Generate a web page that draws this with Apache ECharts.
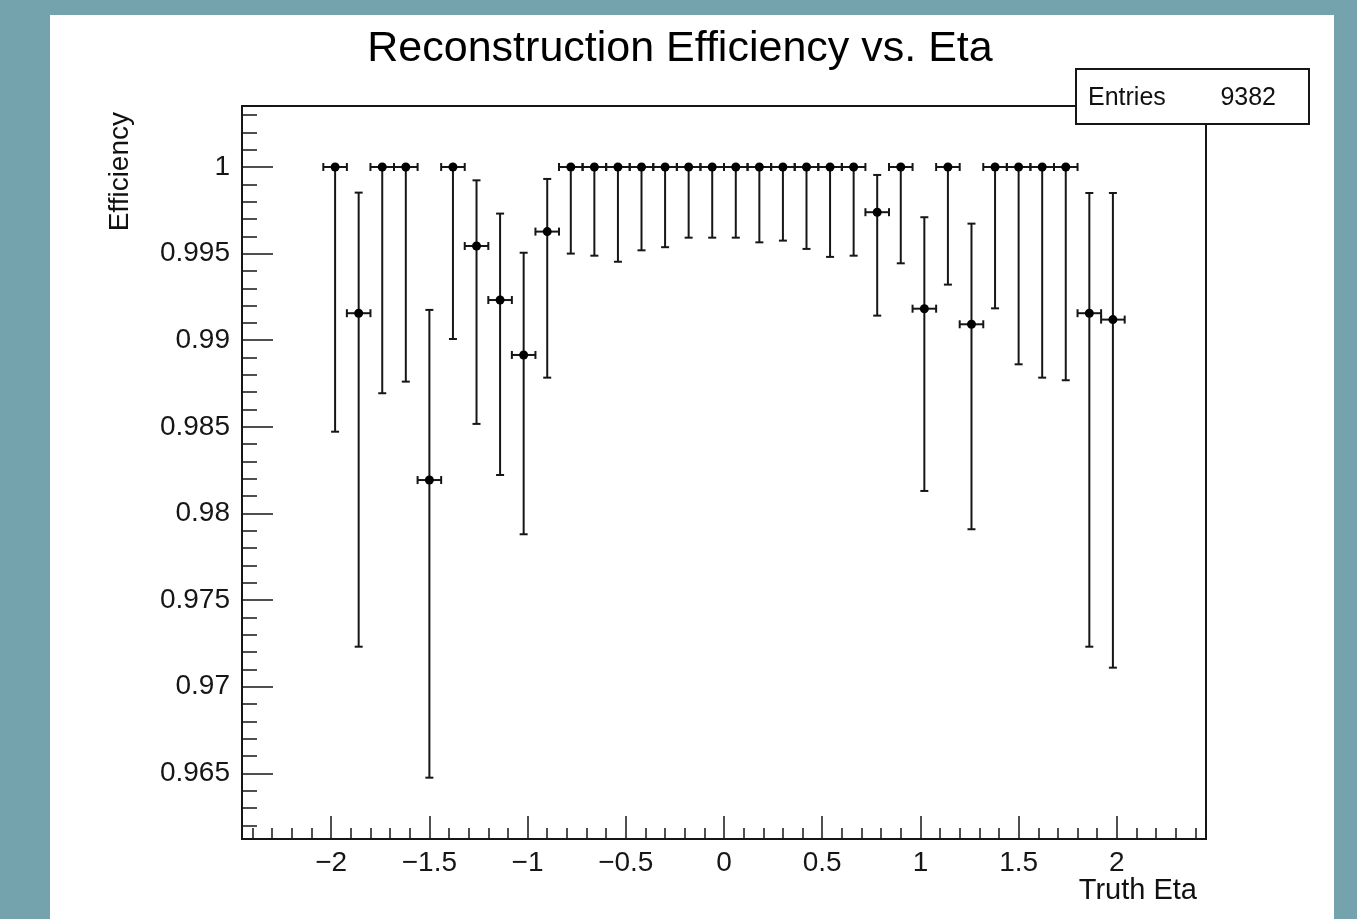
<!DOCTYPE html>
<html><head><meta charset="utf-8">
<script src="https://cdn.jsdelivr.net/npm/echarts@6/dist/echarts.min.js"></script>
<style>
html,body{margin:0;padding:0;background:#74a2ad;width:1357px;height:919px;overflow:hidden;}
#chart{position:absolute;left:50px;top:15px;width:1284px;height:904px;background:#fff;}
</style></head><body><div id="chart"></div>
<script>
// ---- data ----
const etaCenters = [-1.98, -1.86, -1.74, -1.62, -1.50, -1.38, -1.26, -1.14, -1.02, -0.90,
  -0.78, -0.66, -0.54, -0.42, -0.30, -0.18, -0.06, 0.06, 0.18, 0.30, 0.42, 0.54, 0.66,
  0.78, 0.90, 1.02, 1.14, 1.26, 1.38, 1.50, 1.62, 1.74, 1.86, 1.98];
const etaHalfWidth = [0.06, 0.06, 0.06, 0.06, 0.06, 0.06, 0.06, 0.06, 0.06, 0.06,
  0.06, 0.06, 0.06, 0.06, 0.06, 0.06, 0.06, 0.06, 0.06, 0.06, 0.06, 0.06, 0.06,
  0.06, 0.06, 0.06, 0.06, 0.06, 0.06, 0.06, 0.06, 0.06, 0.06, 0.06];
const efficiency = [1.0, 0.99156, 1.0, 1.0, 0.98193, 1.0, 0.99544, 0.99232, 0.98915, 0.99627,
  1.0, 1.0, 1.0, 1.0, 1.0, 1.0, 1.0, 1.0, 1.0, 1.0, 1.0, 1.0, 1.0,
  0.99739, 1.0, 0.99182, 1.0, 0.99092, 1.0, 1.0, 1.0, 1.0, 0.99156, 0.99119];
const effLower = [0.98472, 0.97231, 0.98694, 0.98761, 0.96475, 0.99007, 0.98517, 0.98222, 0.97880, 0.98784,
  0.99500, 0.99488, 0.99453, 0.99519, 0.99537, 0.99592, 0.99592, 0.99592, 0.99565, 0.99575, 0.99527, 0.99481, 0.99488,
  0.99142, 0.99444, 0.98130, 0.99321, 0.97909, 0.99184, 0.98861, 0.98784, 0.98769, 0.97231, 0.97110];
const effUpper = [1.0, 0.99852, 1.0, 1.0, 0.99175, 1.0, 0.99923, 0.99731, 0.99505, 0.99931,
  1.0, 1.0, 1.0, 1.0, 1.0, 1.0, 1.0, 1.0, 1.0, 1.0, 1.0, 1.0, 1.0,
  0.99954, 1.0, 0.99710, 1.0, 0.99673, 1.0, 1.0, 1.0, 1.0, 0.99850, 0.99850];
const entriesCount = '9382';
const titleText = 'Reconstruction Efficiency vs. Eta';
const xAxisTitle = 'Truth Eta';
const yAxisTitle = 'Efficiency';

// ---- chart ----
const FONT = "'Liberation Sans', Arial, Helvetica, sans-serif";
const INK = '#161616';
const chart = echarts.init(document.getElementById('chart'), null, {renderer: 'canvas'});

const seriesData = etaCenters.map((x, i) => [x, efficiency[i], effLower[i], effUpper[i], etaHalfWidth[i]]);

function renderItem(params, api) {
  const x = api.value(0), y = api.value(1), lo = api.value(2), hi = api.value(3), hw = api.value(4);
  const c = api.coord([x, y]);
  const pLo = api.coord([x, lo]);
  const pHi = api.coord([x, hi]);
  const pL = api.coord([x - hw, y]);
  const pR = api.coord([x + hw, y]);
  const st = {stroke: INK, lineWidth: 2};
  const cap = 4;
  const kids = [
    {type: 'line', shape: {x1: pL[0], y1: c[1], x2: pR[0], y2: c[1]}, style: st},
    {type: 'line', shape: {x1: pL[0], y1: c[1] - cap, x2: pL[0], y2: c[1] + cap}, style: st},
    {type: 'line', shape: {x1: pR[0], y1: c[1] - cap, x2: pR[0], y2: c[1] + cap}, style: st},
    {type: 'line', shape: {x1: c[0], y1: pHi[1], x2: c[0], y2: pLo[1]}, style: st},
    {type: 'line', shape: {x1: c[0] - cap, y1: pLo[1], x2: c[0] + cap, y2: pLo[1]}, style: st}
  ];
  if (hi > y) {
    kids.push({type: 'line', shape: {x1: c[0] - cap, y1: pHi[1], x2: c[0] + cap, y2: pHi[1]}, style: st});
  }
  kids.push({type: 'circle', shape: {cx: c[0], cy: c[1], r: 4.5}, style: {fill: '#000'}});
  return {type: 'group', children: kids};
}

const minus = s => String(s).replace('-', '\u2212');

const option = {
  animation: false,
  backgroundColor: '#fff',
  grid: {left: 192, top: 91, right: 128, bottom: 80, show: true, borderColor: INK, borderWidth: 2, backgroundColor: 'transparent'},
  xAxis: {
    type: 'value', min: -2.454, max: 2.454, splitNumber: 10,
    axisLine: {show: true, onZero: false, lineStyle: {color: INK, width: 2}},
    axisTick: {show: true, inside: true, length: 23, lineStyle: {color: INK, width: 1.5}},
    minorTick: {show: true, splitNumber: 5, length: 11, lineStyle: {color: INK, width: 1.5}},
    splitLine: {show: false}, minorSplitLine: {show: false},
    axisLabel: {show: true, showMinLabel: false, showMaxLabel: false, margin: 10, color: INK, fontSize: 28, fontFamily: FONT,
      formatter: v => minus(+v.toFixed(2))}
  },
  yAxis: {
    type: 'value', min: 0.96121, max: 1.00352, splitNumber: 8,
    axisLine: {show: true, onZero: false, lineStyle: {color: INK, width: 2}},
    axisTick: {show: true, inside: true, length: 31, lineStyle: {color: INK, width: 1.5}},
    minorTick: {show: true, splitNumber: 5, length: 15, lineStyle: {color: INK, width: 1.5}},
    splitLine: {show: false}, minorSplitLine: {show: false},
    axisLabel: {show: true, showMinLabel: false, showMaxLabel: false, margin: 12, color: INK, fontSize: 28, fontFamily: FONT,
      formatter: v => minus(+v.toFixed(3))}
  },
  series: [{type: 'custom', renderItem: renderItem, data: seriesData, encode: {x: 0, y: 1}, clip: false, z: 10}],
  graphic: [
    {type: 'text', x: 630, y: 34, z: 100,
      style: {text: titleText, font: '43px ' + FONT, fill: '#000', textAlign: 'center', textVerticalAlign: 'middle'}},
    {type: 'rect', x: 1026, y: 54, z: 100,
      shape: {x: 0, y: 0, width: 233, height: 55}, style: {fill: '#fff', stroke: INK, lineWidth: 2}},
    {type: 'text', x: 1038, y: 83, z: 101,
      style: {text: 'Entries', font: '25px ' + FONT, fill: '#111', textAlign: 'left', textVerticalAlign: 'middle'}},
    {type: 'text', x: 1226, y: 83, z: 101,
      style: {text: entriesCount, font: '25px ' + FONT, fill: '#111', textAlign: 'right', textVerticalAlign: 'middle'}},
    {type: 'text', x: 70, y: 97, rotation: Math.PI / 2, z: 100,
      style: {text: yAxisTitle, font: '28px ' + FONT, fill: '#111', textAlign: 'right', textVerticalAlign: 'middle'}},
    {type: 'text', x: 1147, y: 876, z: 100,
      style: {text: xAxisTitle, font: '29px ' + FONT, fill: '#111', textAlign: 'right', textVerticalAlign: 'middle'}}
  ]
};
chart.setOption(option);
</script></body></html>
